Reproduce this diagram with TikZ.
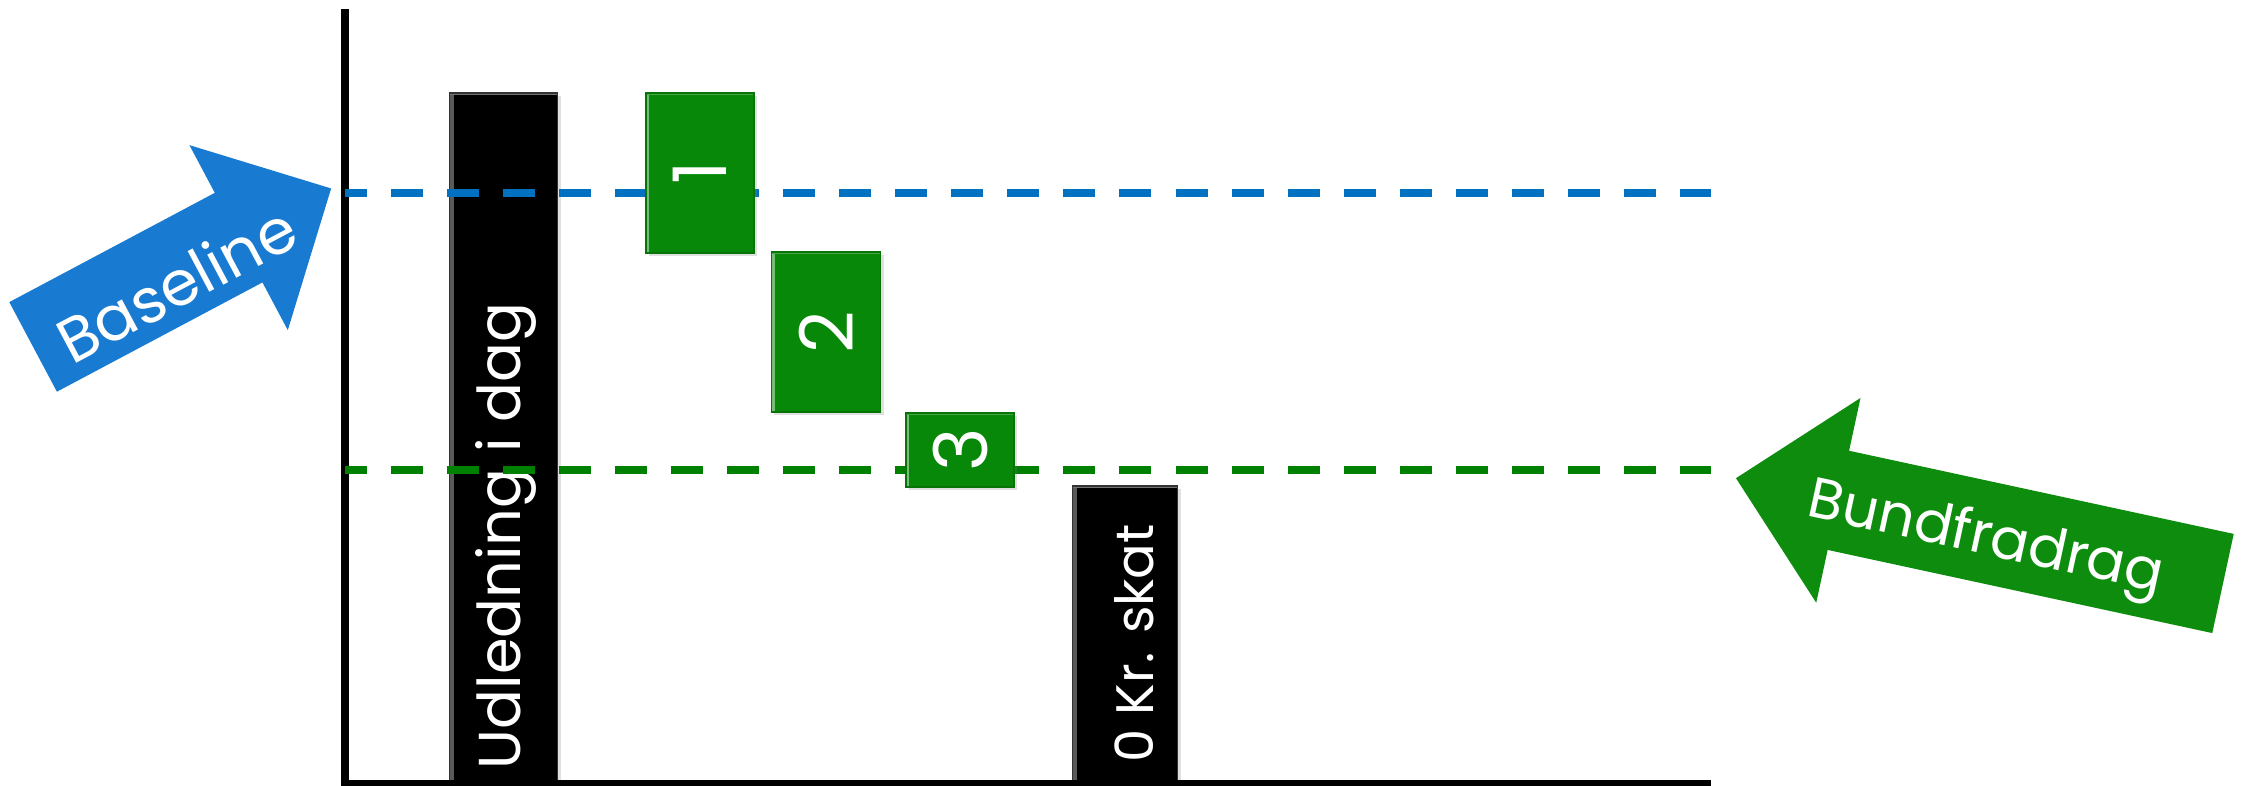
\documentclass[tikz,border=0pt]{standalone}
\usepackage{fontspec}
\setmainfont{Poppins}
\usetikzlibrary{shapes.arrows,shadows,positioning}

\definecolor{baseblue}{RGB}{0,112,192}
\definecolor{arrowblue}{RGB}{24,122,208}
\definecolor{bundgreen}{RGB}{0,128,0}
\definecolor{boxgreen}{RGB}{8,136,8}
\definecolor{arrowgreen}{RGB}{14,140,14}

\begin{document}
\begin{tikzpicture}[x=0.01cm, y=-0.01cm]
  \tikzstyle{axisline}=[line width=0.08cm, black]
  \tikzstyle{level}=[line width=0.08cm, dash pattern=on 0.32cm off 0.24cm, dash phase=0.1cm]
  \tikzstyle{blackbar}=[rectangle, fill=black, draw=black!80, inner sep=0pt, anchor=south west,
      drop shadow={shadow xshift=0.03cm, shadow yshift=-0.03cm, opacity=0.25},
      path picture={\draw[black!65, line width=0.08cm] (path picture bounding box.south west) -- (path picture bounding box.north west);
                    \draw[black!55, line width=0.04cm] (path picture bounding box.north west) -- (path picture bounding box.north east);}]
  \tikzstyle{bartext}=[rotate=90, text=white, inner sep=0pt, anchor=base west]
  \tikzstyle{stepbox}=[rectangle, fill=boxgreen, draw=boxgreen!85!black, inner sep=0pt,
      text=white, font=\fontsize{21}{21}\selectfont,
      drop shadow={shadow xshift=0.03cm, shadow yshift=-0.03cm, opacity=0.25},
      path picture={\draw[boxgreen!55!white, line width=0.07cm] (path picture bounding box.south west) -- (path picture bounding box.north west);
                    \draw[boxgreen!75!white, line width=0.04cm] (path picture bounding box.north west) -- (path picture bounding box.north east);}]
  \tikzstyle{bigarrow}=[single arrow, single arrow head extend=0.54cm, inner xsep=0pt, inner ysep=0pt,
      text=white, anchor=tip]

  \useasboundingbox (0,0) rectangle (2257,786);

  % bars
  \node[blackbar, minimum width=1.08cm, minimum height=6.9cm] (today) at (449,784) {};
  \node[blackbar, minimum width=1.05cm, minimum height=2.97cm] (zero) at (1072,784) {};
  \node[bartext, font=\fontsize{16.8}{17}\selectfont] (todaytext) at (520,770) {Udledning i dag};
  \node[bartext, font=\fontsize{15}{15}\selectfont] (zerotext) at (1153,763) {0 Kr. skat};

  % axes
  \coordinate (ytop) at (345,9);
  \coordinate (origin) at (345,784);
  \coordinate (xend) at (1711,784);
  \draw[axisline] (ytop) -- (origin) -- (xend);

  % baseline and bundfradrag levels
  \coordinate (blue0) at (345,193);
  \coordinate (blue1) at (1711,193);
  \coordinate (green0) at (345,470);
  \coordinate (green1) at (1711,470);
  \draw[level, baseblue] (blue0) -- (blue1);
  \draw[level, bundgreen] (green0) -- (green1);

  % steps
  \node[stepbox, minimum width=1.08cm, minimum height=1.6cm] (step1) at (700,173) {\rotatebox{90}{1}};
  \node[stepbox, minimum width=1.09cm, minimum height=1.6cm] (step2) at (826,332) {\rotatebox{90}{2}};
  \node[stepbox, minimum width=1.08cm, minimum height=0.74cm] (step3) at (960,450) {\rotatebox{90}{3}};

  % labels
  \node[bigarrow, fill=arrowblue, rotate=28, minimum height=3.32cm,
      text height=0.85cm, text depth=0.15cm, font=\fontsize{17.7}{18}\selectfont]
      (baseline) at (332,188) {\hspace*{0.25cm}Baseline};
  \node[bigarrow, fill=arrowgreen, rotate=-12.2, shape border rotate=180, minimum height=4.98cm,
      text height=0.72cm, text depth=0.28cm, font=\fontsize{16.2}{17}\selectfont]
      (bund) at (1735,478) {Bundfradrag\hspace*{0.35cm}};
\end{tikzpicture}
\end{document}
